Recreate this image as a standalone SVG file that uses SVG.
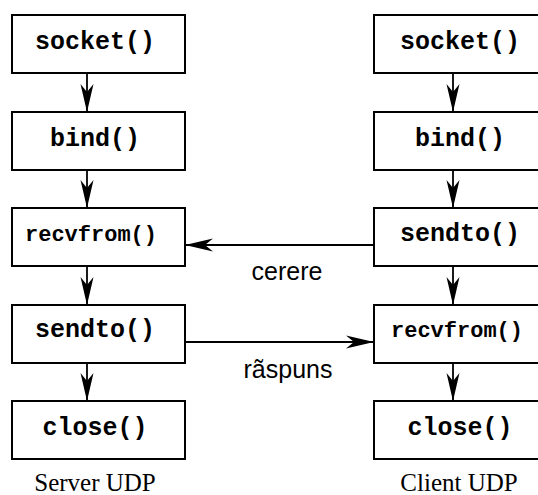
<svg xmlns="http://www.w3.org/2000/svg" width="538" height="495" viewBox="0 0 538 495">
<defs>
<marker id="ah" markerUnits="userSpaceOnUse" markerWidth="30" markerHeight="16" viewBox="-29 -8 30 16" refX="0" refY="0" orient="auto">
<path d="M0,0 L-28,-6.5 L-20,0 L-28,6.5 Z" fill="#000"/>
</marker>
<style>
.box{fill:#fff;stroke:#000;stroke-width:2}
.fn{font-family:"Liberation Mono","Courier New",monospace;font-weight:bold;font-size:25px;text-anchor:middle}
.fn.sm{font-size:22px}
.lbl{font-family:"Liberation Sans",Arial,sans-serif;font-size:25px;text-anchor:middle}
.cap{font-family:"Liberation Serif","Times New Roman",serif;font-size:25px;text-anchor:middle}
.con{stroke:#000;stroke-width:1.8;fill:none;marker-end:url(#ah)}
</style>
</defs>
<rect width="538" height="495" fill="#fff"/>
<g id="connectors">
<line class="con" x1="87" y1="73" x2="87" y2="112"/>
<line class="con" x1="87" y1="170" x2="87" y2="208"/>
<line class="con" x1="87" y1="266" x2="87" y2="305"/>
<line class="con" x1="87" y1="363" x2="87" y2="401"/>
<line class="con" x1="453" y1="73" x2="453" y2="112"/>
<line class="con" x1="453" y1="170" x2="453" y2="208"/>
<line class="con" x1="453" y1="266" x2="453" y2="305"/>
<line class="con" x1="453" y1="363" x2="453" y2="401"/>
<line class="con" x1="374" y1="245" x2="185" y2="245"/>
<line class="con" x1="183" y1="342" x2="374" y2="342"/>
</g>
<g id="s-socket"><rect class="box" x="12" y="15" width="173" height="58"/><text class="fn" x="95" y="49">socket()</text></g>
<g id="s-bind"><rect class="box" x="12" y="112" width="173" height="58"/><text class="fn" x="95" y="146">bind()</text></g>
<g id="s-recvfrom"><rect class="box" x="12" y="208" width="173" height="58"/><text class="fn sm" x="91" y="241">recvfrom()</text></g>
<g id="s-sendto"><rect class="box" x="12" y="305" width="173" height="58"/><text class="fn" x="95" y="337">sendto()</text></g>
<g id="s-close"><rect class="box" x="12" y="401" width="173" height="58"/><text class="fn" x="95" y="435">close()</text></g>
<g id="c-socket"><rect class="box" x="374" y="15" width="176" height="58"/><text class="fn" x="460" y="49">socket()</text></g>
<g id="c-bind"><rect class="box" x="374" y="112" width="176" height="58"/><text class="fn" x="460" y="146">bind()</text></g>
<g id="c-sendto"><rect class="box" x="374" y="208" width="176" height="58"/><text class="fn" x="460" y="241">sendto()</text></g>
<g id="c-recvfrom"><rect class="box" x="374" y="305" width="176" height="58"/><text class="fn sm" x="457" y="337">recvfrom()</text></g>
<g id="c-close"><rect class="box" x="374" y="401" width="176" height="58"/><text class="fn" x="460" y="435">close()</text></g>
<text class="lbl" x="287" y="280">cerere</text>
<text class="lbl" x="288" y="378">rãspuns</text>
<text class="cap" x="95" y="491">Server UDP</text>
<text class="cap" x="459" y="491">Client UDP</text>
</svg>
